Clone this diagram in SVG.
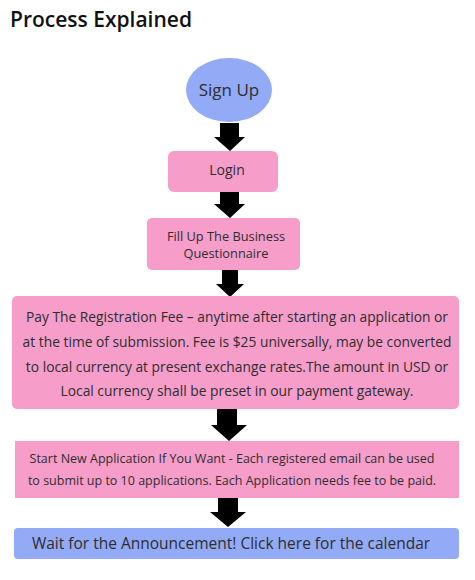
<svg xmlns="http://www.w3.org/2000/svg" width="475" height="580" viewBox="0 0 475 580">
<style>
.t{font-family:"Open Sans","Noto Sans",sans-serif;fill:#2e2e2e;text-anchor:middle}
.pink{fill:#f69dca}
.blue{fill:#93aaf6}
.arr{fill:#000}
</style>
<rect width="475" height="580" fill="#fff"/>
<text x="10" y="27" font-family="'Open Sans','Noto Sans',sans-serif" font-weight="600" font-size="21" fill="#111">Process Explained</text>
<g id="connectors">
<polygon class="arr" points="220,123 239,123 239,137 245,137 230,151 214,137 220,137"/>
<polygon class="arr" points="220,192 239,192 239,204 245,204 230,218 214,204 220,204"/>
<polygon class="arr" points="222,270 238,270 238,284 244,284 230,297 216,284 222,284"/>
<polygon class="arr" points="217,409 237,409 237,425 247,425 229,441 211,425 217,425"/>
<polygon class="arr" points="218,498 238,498 238,512 246,512 228,527 210,512 218,512"/>
</g>
<g id="signup">
<ellipse class="blue" cx="229" cy="90" rx="43" ry="32"/>
<text class="t" x="229" y="96" font-size="17">Sign Up</text>
</g>
<g id="login">
<rect class="pink" x="168" y="151" width="110" height="41" rx="6"/>
<text class="t" x="227" y="175" font-size="14">Login</text>
</g>
<g id="questionnaire">
<rect class="pink" x="147" y="218" width="153" height="52" rx="5"/>
<text class="t" x="226" y="241" font-size="12.8">Fill Up The Business</text>
<text class="t" x="226" y="258" font-size="12.8">Questionnaire</text>
</g>
<g id="fee">
<rect class="pink" x="12" y="296" width="447" height="113" rx="5"/>
<text class="t" x="237" y="322" font-size="13.8">Pay The Registration Fee – anytime after starting an application or</text>
<text class="t" x="237" y="347" font-size="13.8">at the time of submission. Fee is $25 universally, may be converted</text>
<text class="t" x="237" y="372" font-size="13.8">to local currency at present exchange rates.The amount in USD or</text>
<text class="t" x="237" y="396" font-size="13.8">Local currency shall be preset in our payment gateway.</text>
</g>
<g id="newapp">
<rect class="pink" x="15" y="441" width="444" height="57"/>
<text class="t" x="232" y="463" font-size="12.5">Start New Application If You Want - Each registered email can be used</text>
<text class="t" x="232" y="485" font-size="12.5">to submit up to 10 applications. Each Application needs fee to be paid.</text>
</g>
<g id="wait">
<rect class="blue" x="14" y="528" width="445" height="31" rx="4"/>
<text class="t" x="231" y="549" font-size="15.5">Wait for the Announcement! Click here for the calendar</text>
</g>
</svg>
